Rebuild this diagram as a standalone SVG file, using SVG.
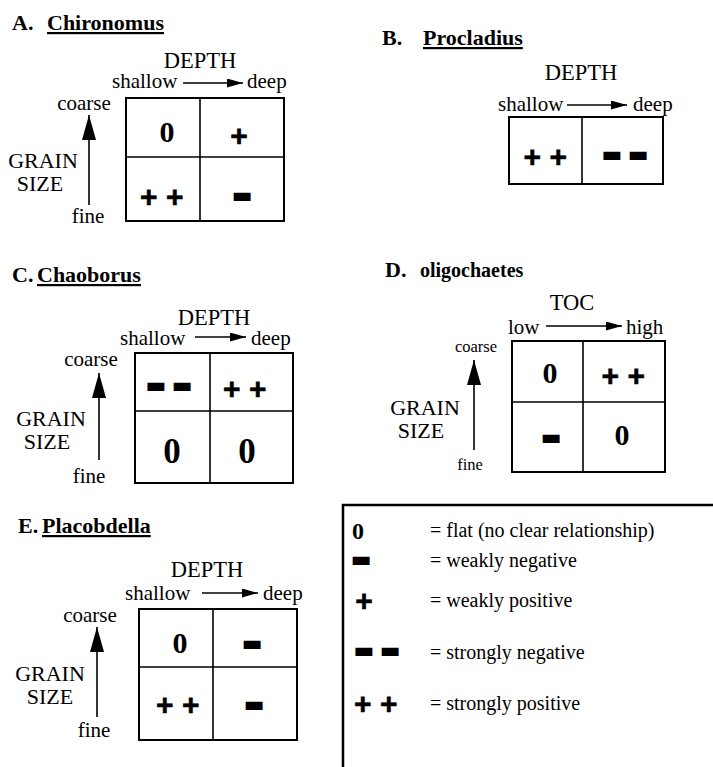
<svg xmlns="http://www.w3.org/2000/svg" width="713" height="767" viewBox="0 0 713 767">
<style>
.t{font-family:"Liberation Serif","Times New Roman",serif;font-size:21px;fill:#000}
.h{font-size:22.5px}
.g{font-size:22px}
.s{font-size:16.5px}
.ttl{font-family:"Liberation Serif","Times New Roman",serif;font-size:22px;font-weight:bold;fill:#000}
.u{text-decoration:underline}
.m{text-anchor:middle}
.box{fill:none;stroke:#000;stroke-width:2}
.dv{stroke:#000;stroke-width:1.6;fill:none}
.z{font-family:"Liberation Serif","Times New Roman",serif;font-weight:bold;font-size:30px;text-anchor:middle;fill:#000}
.zl{font-size:35px}
.p{font-family:"Liberation Sans",Arial,sans-serif;font-weight:bold;font-size:30px;text-anchor:middle;fill:#000;stroke:#000;stroke-width:0.6}
.pp{letter-spacing:8.5px}
.n{font-family:"Liberation Sans",Arial,sans-serif;font-weight:bold;font-size:22px;text-anchor:middle;fill:#000;stroke:#000;stroke-width:6}
.nn{letter-spacing:14px}
.lg{font-family:"Liberation Serif","Times New Roman",serif;font-size:20px;fill:#000}
.ah{stroke:#000;stroke-width:1.6;fill:none}
</style>
<defs>
<marker id="mh" markerUnits="userSpaceOnUse" markerWidth="17" markerHeight="10" refX="16" refY="4.5" orient="auto"><path d="M0,0 L16,4.5 L0,9 Z" fill="#000"/></marker>
<marker id="mv" markerUnits="userSpaceOnUse" markerWidth="26" markerHeight="15" refX="25" refY="7" orient="auto"><path d="M0,0 L25,7 L0,14 Z" fill="#000"/></marker>
</defs>

<g id="panelA">
<text class="ttl" x="12" y="30">A.</text>
<text class="ttl u" x="47" y="30">Chironomus</text>
<text class="t h m" x="200" y="68">DEPTH</text>
<text class="t" x="112" y="88">shallow</text>
<text class="t" x="247" y="88">deep</text>
<rect class="box" x="126" y="98" width="158" height="123"/>
<line class="dv" x1="200" y1="98" x2="200" y2="221"/>
<line class="dv" x1="126" y1="157" x2="284" y2="157"/>
<text class="t m" x="84" y="110">coarse</text>
<text class="t g m" x="43" y="168">GRAIN</text>
<text class="t g m" x="40" y="191">SIZE</text>
<text class="t m" x="88" y="223">fine</text>
<text class="z" x="167" y="142">0</text>
<text class="p" x="239" y="146">+</text>
<text class="p pp" x="166" y="207">++</text>
<text class="n" x="242" y="203">–</text>
</g>

<g id="panelB">
<text class="ttl" x="382" y="45">B.</text>
<text class="ttl u" x="423" y="45">Procladius</text>
<text class="t h m" x="581" y="80">DEPTH</text>
<text class="t" x="498" y="111">shallow</text>
<text class="t" x="633" y="111">deep</text>
<rect class="box" x="509" y="117" width="154" height="67"/>
<line class="dv" x1="582" y1="117" x2="582" y2="184"/>
<text class="p pp" x="549.5" y="167">++</text>
<text class="n nn" x="632" y="161.5">––</text>
</g>

<g id="panelC">
<text class="ttl" x="12" y="282">C.</text>
<text class="ttl u" x="37" y="282">Chaoborus</text>
<text class="t h m" x="214" y="325">DEPTH</text>
<text class="t" x="120" y="345">shallow</text>
<text class="t" x="251" y="345">deep</text>
<rect class="box" x="135" y="353" width="158" height="130"/>
<line class="dv" x1="210" y1="353" x2="210" y2="483"/>
<line class="dv" x1="135" y1="411" x2="293" y2="411"/>
<text class="t m" x="91" y="366">coarse</text>
<text class="t g m" x="51" y="426">GRAIN</text>
<text class="t g m" x="47" y="449">SIZE</text>
<text class="t m" x="89" y="483">fine</text>
<text class="n nn" x="176" y="392.7">––</text>
<text class="p pp" x="249" y="399">++</text>
<text class="z zl" x="172" y="463">0</text>
<text class="z zl" x="247" y="463">0</text>
</g>

<g id="panelD">
<text class="ttl" x="385" y="277">D.</text>
<text class="ttl" x="420" y="277" style="font-size:20px">oligochaetes</text>
<text class="t h m" x="572" y="310">TOC</text>
<text class="t" x="508" y="334">low</text>
<text class="t" x="626" y="334">high</text>
<rect class="box" x="512" y="341" width="153" height="131"/>
<line class="dv" x1="583" y1="341" x2="583" y2="472"/>
<line class="dv" x1="512" y1="402" x2="665" y2="402"/>
<text class="t s m" x="476" y="352">coarse</text>
<text class="t g m" x="425" y="415">GRAIN</text>
<text class="t g m" x="421" y="438">SIZE</text>
<text class="t s m" x="470" y="470">fine</text>
<text class="z" x="550" y="383">0</text>
<text class="p pp" x="627.5" y="386">++</text>
<text class="n" x="551" y="444.7">–</text>
<text class="z" x="622" y="445">0</text>
</g>

<g id="panelE">
<text class="ttl" x="18" y="533">E.</text>
<text class="ttl u" x="42" y="533">Placobdella</text>
<text class="t h m" x="207" y="577">DEPTH</text>
<text class="t" x="125" y="600">shallow</text>
<text class="t" x="263" y="600">deep</text>
<rect class="box" x="139" y="609" width="158" height="131"/>
<line class="dv" x1="213" y1="609" x2="213" y2="740"/>
<line class="dv" x1="139" y1="667" x2="297" y2="667"/>
<text class="t m" x="90" y="622">coarse</text>
<text class="t g m" x="50" y="681">GRAIN</text>
<text class="t g m" x="50" y="704">SIZE</text>
<text class="t m" x="94" y="737">fine</text>
<text class="z" x="180" y="653">0</text>
<text class="n" x="252" y="650.7">–</text>
<text class="p pp" x="182" y="715">++</text>
<text class="n" x="254" y="711.7">–</text>
</g>

<g id="legend">
<path d="M343,767 L343,505 L713,505" fill="none" stroke="#000" stroke-width="2.5"/>
<text class="z" x="358" y="539" style="font-size:24px">0</text>
<text class="lg" x="430" y="537">= flat (no clear relationship)</text>
<text class="n" x="361" y="567">–</text>
<text class="lg" x="430" y="567">= weakly negative</text>
<text class="p" x="364" y="611">+</text>
<text class="lg" x="430" y="607">= weakly positive</text>
<text class="n nn" x="384" y="658">––</text>
<text class="lg" x="430" y="659">= strongly negative</text>
<text class="p pp" x="380" y="714">++</text>
<text class="lg" x="430" y="710">= strongly positive</text>
</g>

<g id="connectors">
<line class="ah" x1="183" y1="83" x2="243" y2="83" marker-end="url(#mh)"/>
<line class="ah" x1="89" y1="205" x2="89" y2="115" marker-end="url(#mv)"/>
<line class="ah" x1="567" y1="105" x2="627" y2="105" marker-end="url(#mh)"/>
<line class="ah" x1="195" y1="337" x2="246" y2="337" marker-end="url(#mh)"/>
<line class="ah" x1="99" y1="460" x2="99" y2="373" marker-end="url(#mv)"/>
<line class="ah" x1="546" y1="326" x2="622" y2="326" marker-end="url(#mh)"/>
<line class="ah" x1="474" y1="450" x2="474" y2="360" marker-end="url(#mv)"/>
<line class="ah" x1="202" y1="593" x2="258" y2="593" marker-end="url(#mh)"/>
<line class="ah" x1="97" y1="717" x2="97" y2="627" marker-end="url(#mv)"/>
</g>
</svg>
